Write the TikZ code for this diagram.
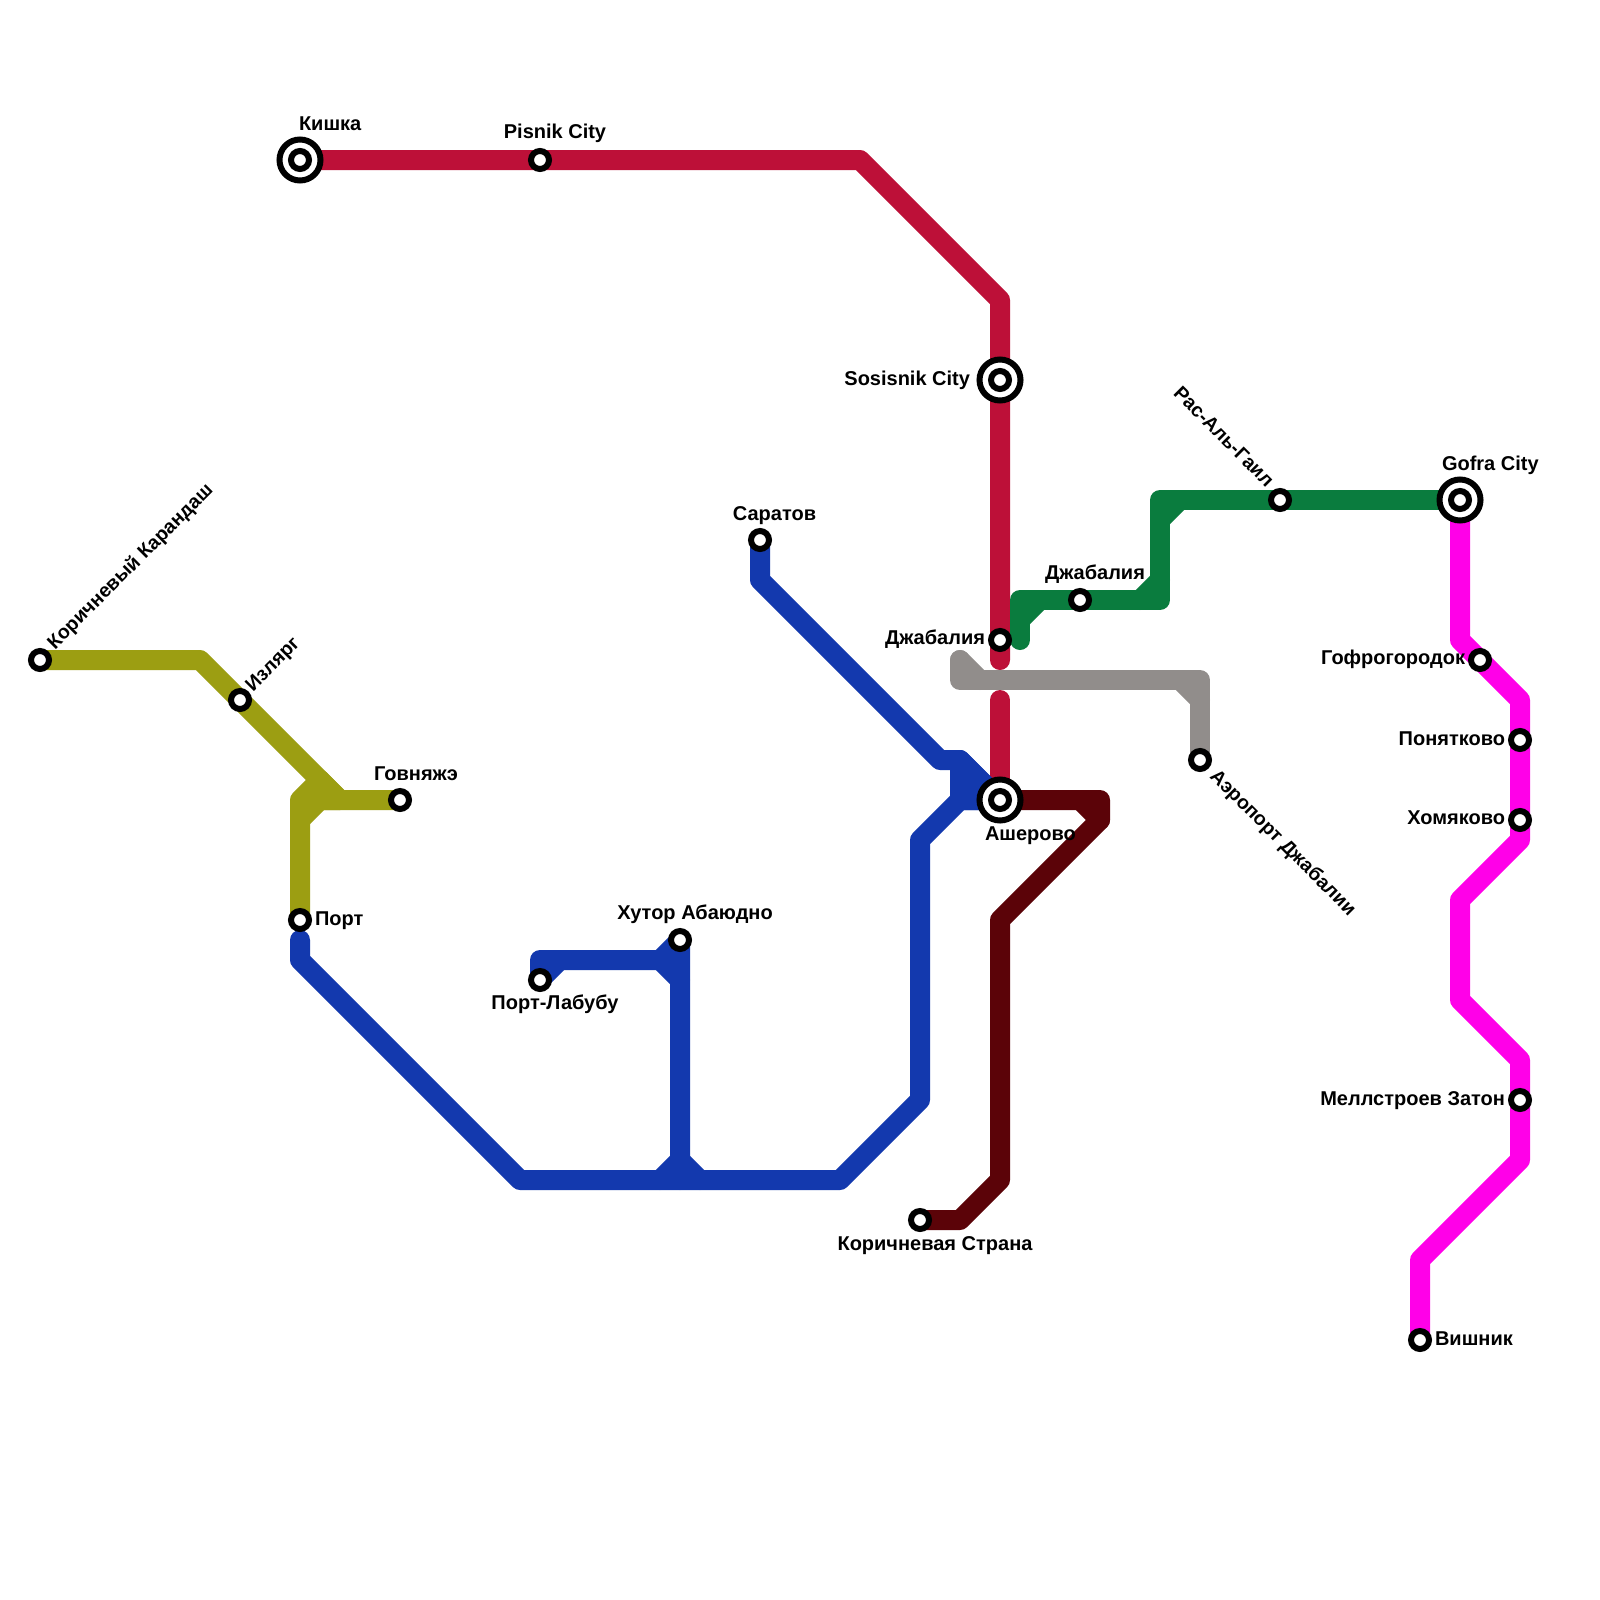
\documentclass[tikz,border=0pt]{standalone}
\usepackage{fontspec}
\setmainfont{Liberation Sans}
\usetikzlibrary{backgrounds}
\definecolor{lcrimson}{HTML}{BD1038}
\definecolor{lgreen}{HTML}{0A7C3E}
\definecolor{lgrey}{HTML}{918D8B}
\definecolor{lblue}{HTML}{1339AE}
\definecolor{lbrown}{HTML}{5B0308}
\definecolor{lolive}{HTML}{9C9E12}
\definecolor{lmag}{HTML}{FF00E8}
\tikzset{
  stn/.style={circle,draw=black,fill=white,line width=6pt,minimum size=18pt,inner sep=0pt,outer sep=0pt},
  hub/.style={circle,draw=black,fill=white,line width=6pt,minimum size=41pt,inner sep=0pt,outer sep=0pt},
  lbl/.style={font=\bfseries\fontsize{20}{20}\selectfont,inner sep=0pt,outer sep=0pt,text=black},
  lblrot/.style={font=\bfseries\fontsize{19.5}{20}\selectfont,inner sep=0pt,outer sep=0pt,text=black},
  route/.style={line width=20pt,line join=round,line cap=round},
}
\begin{document}
\begin{tikzpicture}[x=1pt,y=-1pt]
\useasboundingbox (0,0) rectangle (1600,1600);
% stations
\node[hub] (kishkaH) at (300,160) {}; \node[stn] (kishka) at (300,160) {};
\node[stn] (pisnik) at (540,160) {};
\node[hub] (sosisH) at (1000,380) {}; \node[stn] (sosis) at (1000,380) {};
\node[stn] (dzhabL) at (1000,640) {};
\node[hub] (asherH) at (1000,800) {}; \node[stn] (asher) at (1000,800) {};
\node[stn] (dzhabT) at (1080,600) {};
\node[stn] (ras) at (1280,500) {};
\node[hub] (gofraH) at (1460,500) {}; \node[stn] (gofra) at (1460,500) {};
\node[stn] (gofro) at (1480,660) {};
\node[stn] (pon) at (1520,740) {};
\node[stn] (hom) at (1520,820) {};
\node[stn] (mell) at (1520,1100) {};
\node[stn] (vish) at (1420,1340) {};
\node[stn] (aero) at (1200,760) {};
\node[stn] (sar) at (760,540) {};
\node[stn] (hutor) at (680,940) {};
\node[stn] (lab) at (540,980) {};
\node[stn] (port) at (300,920) {};
\node[stn] (gov) at (400,800) {};
\node[stn] (izl) at (240,700) {};
\node[stn] (karan) at (40,660) {};
\node[stn] (kstr) at (920,1220) {};
% connectors
\begin{scope}[on background layer]
\fill[white] (0,0) rectangle (1600,1600);
% crimson
\draw[route,lcrimson] (kishka.center) -- (pisnik.center) -- (860,160) -- (1000,300) -- (sosis.center) -- (dzhabL.center) -- (1000,660);
\draw[route,lcrimson] (1000,700) -- (asher.center);
% green
\draw[route,lgreen] (1020,640) -- (1020,600) -- (dzhabT.center) -- (1160,600) -- (1160,500) -- (ras.center) -- (gofra.center);
\draw[route,lgreen] (1020,620) -- (1040,600);
\draw[route,lgreen] (1140,600) -- (1160,580);
\draw[route,lgreen] (1160,520) -- (1180,500);
% grey
\draw[route,lgrey] (960,660) -- (960,680) -- (1200,680) -- (aero.center);
\draw[route,lgrey] (960,660) -- (980,680);
\draw[route,lgrey] (1180,680) -- (1200,700);
% blue
\draw[route,lblue] (sar.center) -- (760,580) -- (940,760) -- (960,760) -- (asher.center) -- (960,800) -- (920,840) -- (920,1100) -- (840,1180) -- (520,1180) -- (300,960) -- (300,940);
\draw[route,lblue,fill=lblue] (960,760) -- (asher.center) -- (960,800) -- cycle;
\draw[route,lblue] (lab.center) -- (540,960) -- (660,960) -- (hutor.center) -- (680,1180);
\draw[route,lblue] (lab.center) -- (560,960);
\draw[route,lblue] (660,960) -- (680,980);
\draw[route,lblue] (660,1180) -- (680,1160) -- (700,1180);
% brown
\draw[route,lbrown] (asher.center) -- (1100,800) -- (1100,820) -- (1000,920) -- (1000,1180) -- (960,1220) -- (kstr.center);
\draw[route,lbrown] (1080,800) -- (1100,820);
% olive
\draw[route,lolive] (karan.center) -- (200,660) -- (izl.center) -- (340,800) -- (gov.center);
\draw[route,lolive] (320,780) -- (300,800) -- (port.center);
\draw[route,lolive] (300,820) -- (320,800) -- (340,800);
\draw[route,lolive,fill=lolive] (320,780) -- (340,800) -- (320,800) -- cycle;
% magenta
\draw[route,lmag] (gofra.center) -- (1460,640) -- (gofro.center) -- (1520,700) -- (pon.center) -- (hom.center) -- (1520,840) -- (1460,900) -- (1460,1000) -- (1520,1060) -- (mell.center) -- (1520,1160) -- (1420,1260) -- (vish.center);
\end{scope}
% labels
\node[lbl,anchor=base west] (tKishka) at (299,131) {Кишка};
\node[lbl,anchor=base] (tPisnik) at (555,139) {Pisnik City};
\node[lbl,anchor=base east] (tSosis) at (970,385) {Sosisnik City};
\node[lbl,anchor=base east] (tDzhL) at (985,644) {Джабалия};
\node[lbl,anchor=base west] (tAsher) at (985,840) {Ашерово};
\node[lbl,anchor=base west] (tDzhT) at (1045,579) {Джабалия};
\node[lblrot,anchor=base east,rotate=-45] (tRas) at (1266,488) {Рас-Аль-Гаил};
\node[lbl,anchor=base west] (tGofra) at (1442,470) {Gofra City};
\node[lbl,anchor=base east] (tGofro) at (1465,664) {Гофрогородок};
\node[lbl,anchor=base east] (tPon) at (1505,745) {Понятково};
\node[lbl,anchor=base east] (tHom) at (1505,824) {Хомяково};
\node[lbl,anchor=base east] (tMell) at (1505,1105) {Меллстроев Затон};
\node[lbl,anchor=base west] (tVish) at (1435,1345) {Вишник};
\node[lblrot,anchor=base west,rotate=-45] (tAero) at (1209,777) {Аэропорт Джабалии};
\node[lbl,anchor=base] (tSar) at (774.5,520) {Саратов};
\node[lbl,anchor=base] (tHutor) at (695,919) {Хутор Абаюдно};
\node[lbl,anchor=base] (tLab) at (555,1009) {Порт-Лабубу};
\node[lbl,anchor=base west] (tPort) at (315,925) {Порт};
\node[lbl,anchor=base] (tGov) at (416,780) {Говняжэ};
\node[lblrot,anchor=base west,rotate=45] (tIzl) at (253,692) {Излярг};
\node[lblrot,anchor=base west,rotate=45] (tKaran) at (55,650) {Коричневый Карандаш};
\node[lbl,anchor=base] (tKstr) at (935,1250) {Коричневая Страна};
\end{tikzpicture}
\end{document}
